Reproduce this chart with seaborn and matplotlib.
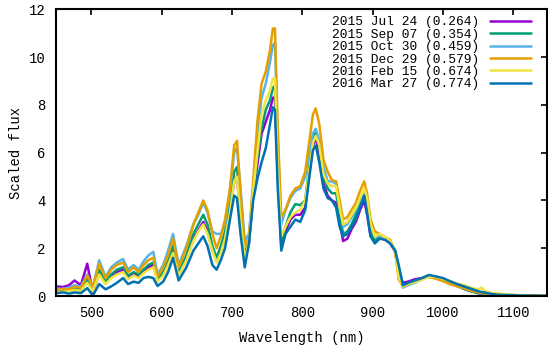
import matplotlib
matplotlib.use("Agg")
import matplotlib.pyplot as plt
import seaborn as sns
import pandas as pd

wavelength = [450, 460, 468, 476, 485, 494, 502, 511, 520, 528,
              536, 545, 552, 560, 567, 574, 581, 588, 594, 602,
              609, 616, 624, 635, 645, 652, 659, 665, 672, 678,
              684, 690, 697, 703, 707, 712, 718, 724, 730, 736,
              742, 748, 754, 758, 761, 765, 770, 776, 783, 790,
              797, 804, 810, 815, 819, 824, 830, 836, 842, 848,
              853, 858, 864, 870, 876, 882, 888, 892, 897, 903,
              910, 918, 925, 932, 937, 943, 950, 960, 970, 980,
              990, 1000, 1010, 1020, 1030, 1040, 1050, 1055, 1060, 1070,
              1080, 1090, 1100, 1110, 1120, 1130, 1140, 1147]

flux_jul24 = [0.40, 0.38, 0.45, 0.65, 0.45, 1.35, 0.15, 0.95, 0.55, 0.85,
              1.00, 1.10, 0.80, 0.95, 0.85, 1.00, 1.20, 1.30, 0.65, 0.95,
              1.40, 1.95, 0.90, 1.55, 2.40, 2.75, 3.10, 2.70, 1.90, 1.50,
              1.90, 2.50, 3.60, 4.80, 5.00, 3.30, 1.60, 2.20, 4.20, 5.50,
              6.80, 7.30, 7.80, 8.30, 8.30, 5.00, 2.10, 2.70, 3.20, 3.40,
              3.40, 3.70, 5.20, 6.30, 6.60, 6.00, 4.70, 4.20, 4.00, 3.90,
              3.10, 2.30, 2.40, 2.80, 3.10, 3.60, 4.00, 3.40, 2.50, 2.30,
              2.45, 2.35, 2.20, 1.85, 1.00, 0.55, 0.60, 0.70, 0.75, 0.85,
              0.78, 0.68, 0.55, 0.43, 0.30, 0.20, 0.12, 0.10, 0.08, 0.06,
              0.05, 0.04, 0.03, 0.03, 0.02, 0.02, 0.01, 0.01]

flux_sep07 = [0.20, 0.22, 0.22, 0.30, 0.28, 0.70, 0.30, 1.10, 0.60, 0.90,
              1.10, 1.20, 0.85, 1.00, 0.90, 1.10, 1.30, 1.40, 0.70, 1.00,
              1.50, 2.10, 1.00, 1.70, 2.60, 3.00, 3.40, 3.00, 2.10, 1.60,
              2.10, 2.70, 3.80, 5.20, 5.40, 3.60, 1.70, 2.30, 4.30, 5.80,
              7.00, 7.80, 8.20, 8.70, 8.80, 5.80, 2.30, 2.90, 3.50, 3.85,
              3.80, 4.00, 5.50, 6.60, 6.90, 6.30, 5.00, 4.50, 4.30, 4.30,
              3.40, 2.60, 2.70, 3.00, 3.40, 3.90, 4.30, 3.80, 2.70, 2.30,
              2.50, 2.40, 2.25, 1.90, 1.00, 0.45, 0.50, 0.60, 0.70, 0.85,
              0.78, 0.70, 0.55, 0.42, 0.30, 0.20, 0.12, 0.10, 0.08, 0.06,
              0.05, 0.04, 0.03, 0.03, 0.02, 0.02, 0.01, 0.01]

flux_oct30 = [0.30, 0.30, 0.35, 0.45, 0.40, 0.90, 0.35, 1.50, 0.80, 1.20,
              1.40, 1.55, 1.10, 1.30, 1.10, 1.45, 1.70, 1.85, 0.90, 1.30,
              1.90, 2.60, 1.30, 2.10, 3.00, 3.40, 3.90, 3.50, 2.70, 2.60,
              2.60, 3.00, 4.40, 6.00, 6.20, 4.50, 2.30, 2.60, 4.50, 6.80,
              8.30, 8.90, 9.80, 10.50, 10.60, 6.50, 3.00, 3.60, 4.10, 4.40,
              4.50, 5.00, 6.00, 6.80, 7.00, 6.50, 5.40, 4.80, 4.80, 4.70,
              3.80, 2.90, 3.00, 3.30, 3.60, 4.00, 4.40, 4.00, 3.00, 2.50,
              2.50, 2.40, 2.30, 1.90, 0.90, 0.35, 0.45, 0.55, 0.70, 0.80,
              0.75, 0.65, 0.50, 0.42, 0.33, 0.25, 0.17, 0.14, 0.11, 0.08,
              0.06, 0.05, 0.04, 0.03, 0.02, 0.02, 0.01, 0.01]

flux_dec29 = [0.25, 0.30, 0.28, 0.38, 0.35, 0.85, 0.40, 1.35, 0.75, 1.10,
              1.30, 1.40, 1.00, 1.20, 1.00, 1.30, 1.50, 1.60, 0.80, 1.20,
              1.70, 2.40, 1.20, 2.00, 3.00, 3.50, 4.00, 3.60, 2.60, 2.00,
              2.50, 3.20, 4.50, 6.30, 6.50, 4.30, 2.10, 2.40, 4.80, 7.30,
              8.90, 9.40, 10.30, 11.20, 11.20, 7.00, 3.30, 3.60, 4.20, 4.50,
              4.60, 5.20, 6.50, 7.60, 7.85, 7.20, 5.70, 5.20, 4.85, 4.80,
              4.00, 3.20, 3.30, 3.60, 3.90, 4.40, 4.80, 4.30, 3.20, 2.70,
              2.60, 2.45, 2.35, 1.80, 0.70, 0.40, 0.50, 0.60, 0.75, 0.80,
              0.72, 0.62, 0.50, 0.40, 0.33, 0.22, 0.15, 0.13, 0.10, 0.08,
              0.06, 0.05, 0.04, 0.03, 0.02, 0.02, 0.01, 0.01]

flux_feb15 = [0.15, 0.18, 0.20, 0.25, 0.22, 0.55, 0.20, 0.90, 0.50, 0.75,
              0.90, 1.00, 0.70, 0.85, 0.75, 0.95, 1.10, 1.20, 0.60, 0.85,
              1.30, 1.80, 0.85, 1.50, 2.30, 2.70, 3.00, 2.60, 1.90, 1.40,
              1.80, 2.40, 3.50, 4.80, 5.00, 3.20, 1.50, 2.30, 4.40, 6.00,
              7.60, 8.20, 8.60, 9.10, 9.10, 5.50, 2.50, 2.90, 3.30, 3.50,
              3.60, 4.00, 5.30, 6.40, 6.70, 6.30, 5.10, 4.70, 4.60, 4.60,
              3.70, 3.00, 3.10, 3.40, 3.70, 4.10, 4.50, 4.10, 3.00, 2.50,
              2.60, 2.45, 2.30, 1.85, 0.80, 0.40, 0.50, 0.58, 0.68, 0.80,
              0.80, 0.72, 0.62, 0.52, 0.45, 0.35, 0.28, 0.35, 0.20, 0.12,
              0.10, 0.07, 0.05, 0.04, 0.03, 0.02, 0.02, 0.01]

flux_mar27 = [0.12, 0.15, 0.10, 0.15, 0.12, 0.33, 0.02, 0.50, 0.28, 0.40,
              0.55, 0.75, 0.50, 0.60, 0.55, 0.75, 0.80, 0.75, 0.42, 0.60,
              1.00, 1.60, 0.65, 1.20, 1.90, 2.20, 2.50, 2.10, 1.30, 1.10,
              1.50, 2.00, 3.20, 4.20, 4.10, 2.60, 1.20, 2.20, 4.00, 4.90,
              5.60, 6.20, 7.20, 7.90, 7.80, 4.50, 1.90, 2.60, 2.90, 3.20,
              3.10, 3.60, 5.00, 6.10, 6.30, 5.60, 4.50, 4.10, 4.00, 3.70,
              2.90, 2.50, 2.60, 2.90, 3.20, 3.70, 4.20, 3.50, 2.50, 2.20,
              2.40, 2.35, 2.20, 1.90, 1.30, 0.45, 0.55, 0.65, 0.75, 0.88,
              0.82, 0.75, 0.62, 0.50, 0.40, 0.30, 0.20, 0.17, 0.14, 0.08,
              0.05, 0.04, 0.03, 0.02, 0.02, 0.02, 0.01, 0.01]

series_labels = ["2015 Jul 24 (0.264)", "2015 Sep 07 (0.354)", "2015 Oct 30 (0.459)",
                 "2015 Dec 29 (0.579)", "2016 Feb 15 (0.674)", "2016 Mar 27 (0.774)"]
series_values = [flux_jul24, flux_sep07, flux_oct30, flux_dec29, flux_feb15, flux_mar27]
colors = ["#9400d3", "#009e73", "#56b4e9", "#e69f00", "#f0e442", "#0072b2"]

x_ticks = [500, 600, 700, 800, 900, 1000, 1100]
y_ticks = [0, 2, 4, 6, 8, 10, 12]

frames = []
for lab, vals in zip(series_labels, series_values):
    frames.append(pd.DataFrame({"Wavelength": wavelength, "Flux": vals, "Epoch": lab}))
df = pd.concat(frames, ignore_index=True)

sns.set_theme(style="white")
mono = ["Liberation Mono", "DejaVu Sans Mono"]
plt.rcParams["font.family"] = mono

fig = plt.figure(figsize=(5.48, 3.49), dpi=100)
ax = fig.add_axes([56.3 / 548, 53 / 349, (546.7 - 56.3) / 548, (296 - 9.3) / 349])

sns.lineplot(data=df, x="Wavelength", y="Flux", hue="Epoch", hue_order=series_labels,
             palette=colors, estimator=None, sort=False, linewidth=1.8, legend=False, ax=ax)

ax.set_xlim(450, 1147.5)
ax.set_ylim(0, 12)
ax.set_xticks(x_ticks)
ax.set_yticks(y_ticks)
ax.set_xlabel("Wavelength (nm)", fontsize=10, color="black", labelpad=8)
ax.set_ylabel("Scaled flux", fontsize=10, color="black", labelpad=4)
ax.tick_params(axis="both", which="both", direction="in", length=4.5, width=1.2,
               top=True, right=True, labelsize=10, colors="black", pad=7)
ax.tick_params(axis="y", pad=8)
for sp in ax.spines.values():
    sp.set_visible(True)
    sp.set_color("black")
    sp.set_linewidth(1.5)

leg = ax.legend(ax.lines[:6], series_labels, loc="upper right",
                bbox_to_anchor=(0.968, 0.976), markerfirst=False, frameon=False,
                fontsize=9.3, handlelength=3.2, handletextpad=0.8, labelspacing=0.03,
                borderaxespad=0, borderpad=0)
for t in leg.get_texts():
    t.set_color("black")

fig.savefig("out.png", dpi=100)
